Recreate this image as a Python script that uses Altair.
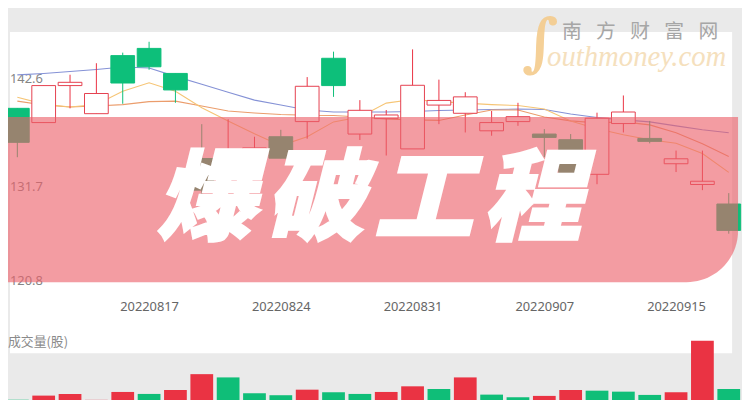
import json
import altair as alt
import pandas as pd

# ---------------- data ----------------
dates = ["20220810", "20220811", "20220812", "20220815", "20220816", "20220817",
         "20220818", "20220819", "20220822", "20220823", "20220824", "20220825",
         "20220826", "20220829", "20220830", "20220831", "20220901", "20220902",
         "20220905", "20220906", "20220907", "20220908", "20220909", "20220913",
         "20220914", "20220915", "20220916", "20220919"]
opens = [139.67, 138.23, 141.97, 139.13, 145.00, 145.73, 143.20, 134.60, 133.40, 135.07,
         136.80, 138.33, 144.73, 137.07, 138.63, 135.57, 140.00, 139.17, 137.40, 138.33,
         137.07, 136.50, 133.00, 138.13, 136.63, 134.07, 131.97, 130.00]
closes = [136.23, 141.97, 142.30, 141.17, 142.23, 143.87, 141.53, 131.40, 135.07, 135.67,
          134.63, 141.90, 141.97, 139.47, 139.00, 142.00, 140.47, 140.83, 138.23, 138.83,
          136.73, 132.57, 138.67, 139.30, 136.33, 134.57, 132.30, 127.33]
highs = [139.70, 141.97, 143.07, 144.23, 145.30, 146.40, 143.20, 138.07, 138.57, 136.80,
         137.50, 142.83, 145.40, 140.50, 139.50, 145.63, 142.57, 141.30, 139.40, 140.23,
         137.57, 137.07, 139.23, 140.97, 138.40, 135.40, 135.40, 131.10]
lows = [134.73, 138.23, 139.67, 139.13, 140.13, 143.57, 140.23, 130.80, 132.80, 134.70,
        134.63, 136.60, 140.83, 136.47, 134.90, 135.57, 138.07, 137.23, 136.90, 137.90,
        134.73, 132.20, 132.00, 137.23, 136.13, 133.23, 131.40, 127.00]
ma5 = [140.80, 140.10, 139.80, 140.05, 141.40, 142.25, 141.40, 139.73, 138.40, 137.10,
       135.90, 136.80, 138.30, 138.80, 140.20, 140.57, 140.35, 140.20, 140.05, 139.95,
       139.60, 138.40, 137.60, 137.00, 136.50, 136.15, 135.10, 133.20]
ma10 = [140.40, 140.00, 139.80, 139.90, 140.05, 140.35, 140.40, 139.90, 139.40, 139.20,
        139.05, 138.97, 138.95, 138.80, 138.60, 138.50, 138.45, 139.00, 139.50, 139.50,
        138.80, 138.40, 138.20, 138.30, 138.00, 137.20, 136.10, 134.80]
ma20 = [143.05, 143.20, 143.40, 143.60, 143.85, 143.75, 142.90, 142.10, 141.30, 140.50,
        140.00, 139.50, 139.30, 139.30, 139.30, 139.35, 139.45, 139.50, 139.55, 139.60,
        139.55, 139.10, 138.75, 138.50, 138.30, 137.90, 137.50, 137.20]
volumes = [80000, 123000, 140000, 80000, 160000, 140000, 180000, 340000, 307000, 147000,
           127000, 183000, 157000, 140000, 160000, 217000, 190000, 307000, 133000, 107000,
           120000, 180000, 173000, 163000, 130000, 157000, 677000, 190000]
vol_dir = ["down", "up", "up", "up", "up", "down", "up", "up", "down", "down",
           "down", "up", "down", "down", "up", "up", "down", "up", "down", "down",
           "up", "up", "down", "down", "down", "up", "up", "down"]
y_ticks = [142.6, 131.7, 120.8]
x_tick_idx = [5, 10, 15, 20, 25]
title_chars = ["爆", "破", "工", "程"]
wm_chars = ["南", "方", "财", "富", "网"]

# ---------------- styling ----------------
W, H = 742, 392
RED = "#e5404f"
GREEN = "#0dbf7a"
VRED = "#ea3343"
VGREEN = "#0fbe78"
BG = "#eaeaea"
MA_COLORS = {"ma5": "#f6c575", "ma10": "#eb9d6c", "ma20": "#8592d6"}

df = pd.DataFrame({
    "idx": list(range(len(dates))),
    "date": dates,
    "open": opens, "high": highs, "low": lows, "close": closes,
    "ma5": ma5, "ma10": ma10, "ma20": ma20,
    "vol": volumes, "vdir": vol_dir,
})
df["dir"] = ["up" if c >= o else "down" for o, c in zip(opens, closes)]

one = pd.DataFrame({"a": [0]})

xs = alt.Scale(domain=[-4.5 / 27, 737.5 / 27], nice=False, zero=False)
ys = alt.Scale(domain=[110.4, 149.6], nice=False, zero=False)
vs = alt.Scale(domain=[0, 1000000], range=[402, 302], nice=False)

x_axis = alt.Axis(values=x_tick_idx, labelExpr=json.dumps(dates) + "[datum.value]",
                  orient="bottom", offset=-92, domain=False, ticks=False, grid=False,
                  labelPadding=0, labelBaseline="middle", labelFontSize=13,
                  labelColor="#666666", labelFont="Noto Sans", title=None,
                  labelFlush=False, labelOverlap=False, zindex=1)
x_enc = alt.X("idx:Q", scale=xs, axis=x_axis)

# white panel
panel = alt.Chart(one).mark_rect(color="white").encode(
    x=alt.value(2), x2=alt.value(732), y=alt.value(22), y2=alt.value(347))

# price labels (inside, left)
tick_df = pd.DataFrame({"v": y_ticks, "t": [f"{v:.1f}" for v in y_ticks]})
ylab_a = alt.Chart(tick_df).transform_filter("datum.v > 125").mark_text(
    align="left", baseline="middle", fontSize=13, font="Noto Sans", color="#858585"
).encode(x=alt.value(2), y=alt.Y("v:Q", scale=ys, axis=None), text="t:N")
ylab_b = alt.Chart(tick_df).transform_filter("datum.v < 125").mark_text(
    align="left", baseline="middle", fontSize=13, font="Noto Sans", color="#858585", dy=-14
).encode(x=alt.value(2), y=alt.Y("v:Q", scale=ys, axis=None), text="t:N")

# volume bars
vol = alt.Chart(df).mark_bar(size=23).encode(
    x=x_enc,
    y=alt.Y("vol:Q", scale=vs, axis=None),
    color=alt.Color("vdir:N", scale=alt.Scale(domain=["up", "down"], range=[VRED, VGREEN]),
                    legend=None))

# moving averages, one layer per line with its own colour
ma_layers = [
    alt.Chart(df).mark_line(strokeWidth=1.1, color=MA_COLORS[k]).encode(
        x=x_enc, y=alt.Y(f"{k}:Q", scale=ys, axis=None))
    for k in ["ma20", "ma10", "ma5"]
]

# candles
wick = alt.Chart(df).mark_rule(strokeWidth=1).encode(
    x=x_enc,
    y=alt.Y("low:Q", scale=ys, axis=None), y2="high:Q",
    color=alt.Color("dir:N", scale=alt.Scale(domain=["up", "down"], range=[RED, GREEN]),
                    legend=None))
body = alt.Chart(df).mark_bar(size=24, strokeWidth=1).encode(
    x=x_enc,
    y=alt.Y("open:Q", scale=ys, axis=None), y2="close:Q",
    fill=alt.Fill("dir:N", scale=alt.Scale(domain=["up", "down"], range=["white", GREEN]),
                  legend=None),
    stroke=alt.Stroke("dir:N", scale=alt.Scale(domain=["up", "down"], range=[RED, GREEN]),
                      legend=None))

# pink banner
banner = alt.Chart(one).mark_rect(color="#eb5f69", opacity=0.62,
                                  cornerRadiusBottomRight=52).encode(
    x=alt.value(0), x2=alt.value(738), y=alt.value(108), y2=alt.value(275))

# big title, one character at a time
title_layers = [
    alt.Chart(one).mark_text(text=c, font="Noto Sans CJK SC", fontSize=100,
                             fontWeight=900, fontStyle="italic", color="white",
                             stroke="white", strokeWidth=2.5,
                             align="center", baseline="middle").encode(
        x=alt.value(200 + 110 * k), y=alt.value(194))
    for k, c in enumerate(title_chars)
]

# watermark
wm_layers = [
    alt.Chart(one).mark_text(text=c, font="Noto Sans CJK SC", fontSize=20,
                             color="#a6a6a6", align="center", baseline="middle").encode(
        x=alt.value(570 + 34.5 * k), y=alt.value(22))
    for k, c in enumerate(wm_chars)
]
swoosh = alt.Chart(one).mark_text(text="∫", font="DejaVu Serif", fontSize=64,
                                  fontWeight="bold", fontStyle="italic",
                                  color="#f4cb8c", opacity=0.9,
                                  align="center", baseline="middle").encode(
    x=alt.value(538), y=alt.value(35))
wm_en = alt.Chart(one).mark_text(text="outhmoney.com", font="Liberation Serif",
                                 fontSize=29, fontStyle="italic", color="#f5e0bd",
                                 align="left", baseline="alphabetic").encode(
    x=alt.value(545), y=alt.value(56))

vol_label = alt.Chart(one).mark_text(text="成交量(股)", font="Noto Sans CJK SC",
                                     fontSize=13, color="#8a8a8a", align="left",
                                     baseline="middle").encode(
    x=alt.value(0), y=alt.value(336))

chart = alt.layer(
    panel, ylab_a, ylab_b, vol, *ma_layers, wick, body, banner,
    *title_layers, *wm_layers, swoosh, wm_en, vol_label
).resolve_scale(y="independent").properties(
    width=W, height=H, padding=0,
    autosize=alt.AutoSizeParams(type="none"),
    background=BG,
).configure_view(strokeWidth=0)

chart.save("out.html", embed_options={"renderer": "svg", "actions": False})
